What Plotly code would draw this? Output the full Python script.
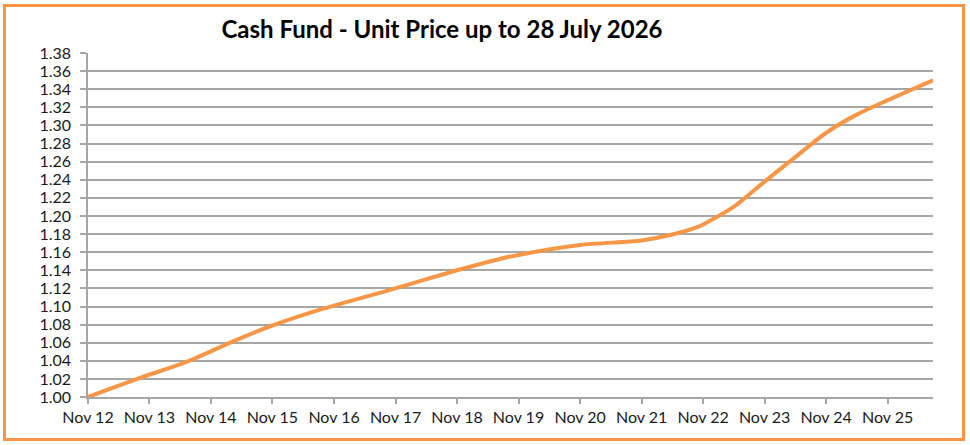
import plotly.graph_objects as go

# unit price
dates = ["2012-11-01", "2013-09-05", "2014-06-25", "2015-03-06", "2015-11-01",
         "2016-08-01", "2017-11-01", "2018-11-01", "2019-07-01", "2019-11-01",
         "2020-11-01", "2021-11-01", "2022-04-20", "2022-10-01", "2022-11-15",
         "2023-05-01", "2023-11-01", "2024-05-01", "2024-11-01", "2025-05-01",
         "2025-11-01", "2026-07-28"]
prices = [1.000, 1.021, 1.040, 1.061, 1.079,
          1.096, 1.120, 1.140, 1.152, 1.157,
          1.168, 1.173, 1.179, 1.188, 1.192,
          1.210, 1.238, 1.265, 1.292, 1.312,
          1.328, 1.350]

orange = "#F79646"
grid = "#A6A6A6"

fig = go.Figure()
fig.add_trace(go.Scatter(x=dates, y=prices, mode="lines",
                         line=dict(color=orange, width=4, shape="spline", smoothing=0.8),
                         showlegend=False, hoverinfo="x+y"))

fig.update_layout(
    width=970, height=445,
    margin=dict(l=88, r=37, t=53, b=48),
    paper_bgcolor="white", plot_bgcolor="white",
    font=dict(family="Lato, Arial, sans-serif", size=16, color="#1a1a1a"),
    title=dict(text="<b>Cash Fund - Unit Price up to 28 July 2026</b>",
               x=442 / 970, xanchor="center", xref="container",
               y=1 - 30 / 445, yanchor="middle", yref="container",
               font=dict(size=24, color="#000000")),
)

fig.update_xaxes(type="date", range=["2012-11-01", "2026-07-28"],
                 tick0="2012-11-01", dtick="M12", tickformat="%b %y",
                 showgrid=False, showline=True, linecolor=grid, linewidth=1.5,
                 ticks="outside", ticklen=5, tickcolor=grid, tickwidth=1.5)

fig.update_yaxes(range=[1.0, 1.3801], dtick=0.02, tick0=1.0, tickformat=".2f",
                 showgrid=True, gridcolor=grid, gridwidth=1.5, zeroline=False,
                 showline=True, linecolor=grid, linewidth=1.5,
                 ticks="outside", ticklen=6, tickcolor=grid, tickwidth=1.5,
                 ticklabelstandoff=6)

# orange frame round the whole chart
fig.add_shape(type="rect", xref="paper", yref="paper",
              x0=(4.5 - 88) / 845, x1=(963.5 - 88) / 845,
              y0=(397 - 439.5) / 344, y1=(397 - 5.5) / 344,
              line=dict(color=orange, width=3))

fig.write_html("out.html", config={"displayModeBar": False},
               post_script="document.body.style.margin='0';document.body.style.overflow='hidden';")
